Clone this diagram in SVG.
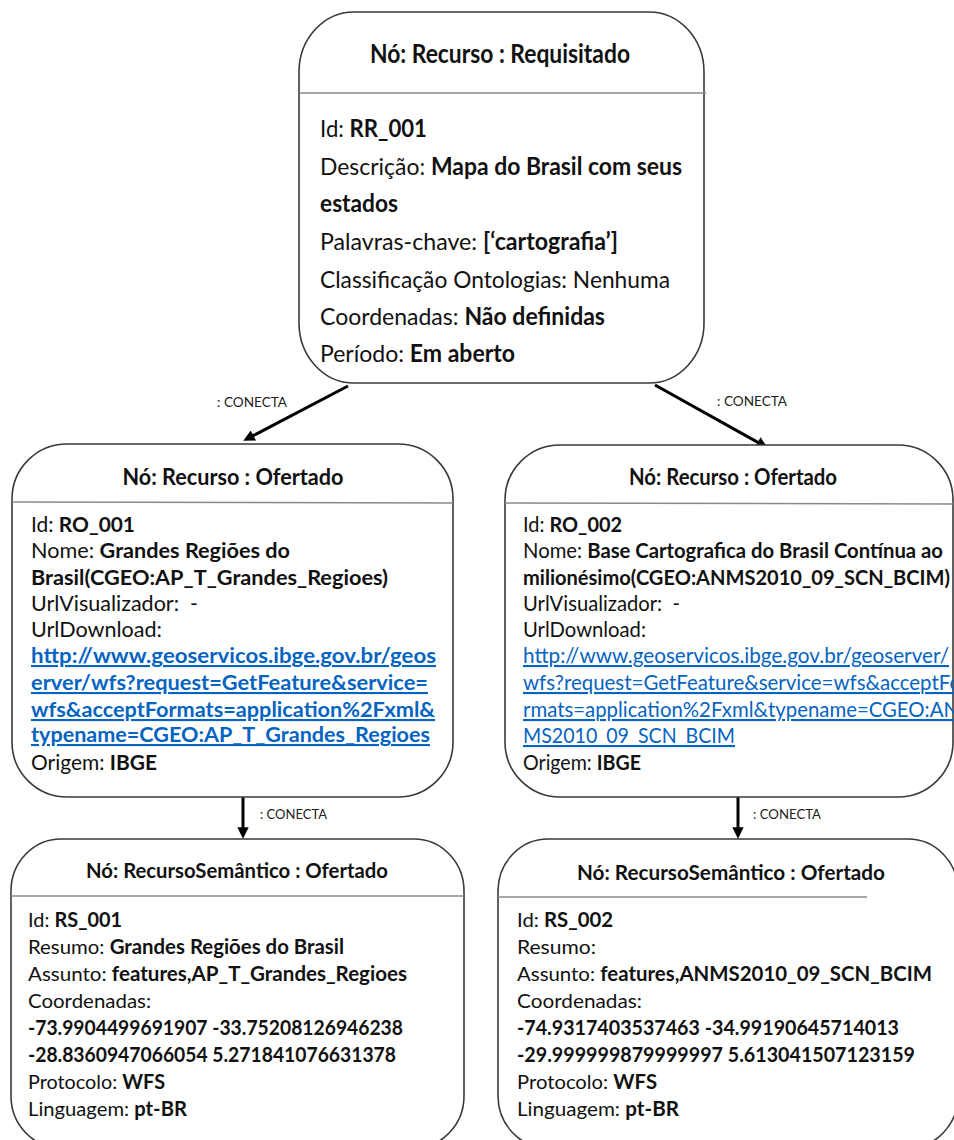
<svg xmlns="http://www.w3.org/2000/svg" width="954" height="1140" viewBox="0 0 954 1140">
<style>
.box{fill:#fff;stroke:#3a3a3a;stroke-width:1.6}
.sep{stroke:#8a8a8a;stroke-width:1.5}
.t{font-family:Lato,"Liberation Sans",sans-serif;fill:#111}
.b{font-weight:700}
.ttl{font-weight:700;text-anchor:middle}
.lk{fill:#0563C1;text-decoration:underline}
.top{font-size:24px}
.mid{font-size:21px}
.bot{font-size:20px}
.lbl{font-family:Lato,"Liberation Sans",sans-serif;font-size:13.5px;fill:#222}
.edge{stroke:#000;stroke-width:3;fill:none;marker-end:url(#ah)}
</style>
<defs>
<marker id="ah" viewBox="0 0 10 10" refX="5" refY="5" markerWidth="4.2" markerHeight="3.8" orient="auto" markerUnits="strokeWidth">
<path d="M0,0 L10,5 L0,10 z" fill="#000"/>
</marker>
</defs>

<g id="connectors">
<line class="edge" x1="348" y1="386" x2="248.3" y2="438.2"/>
<line class="edge" x1="655" y1="385" x2="762.8" y2="445.1"/>
<line class="edge" x1="243" y1="797" x2="243" y2="833"/>
<line class="edge" x1="738" y1="797" x2="738" y2="833"/>
<text class="lbl" x="217" y="407" textLength="70" lengthAdjust="spacingAndGlyphs">: CONECTA</text>
<text class="lbl" x="717" y="406" textLength="70" lengthAdjust="spacingAndGlyphs">: CONECTA</text>
<text class="lbl" x="260" y="819" textLength="67" lengthAdjust="spacingAndGlyphs">: CONECTA</text>
<text class="lbl" x="753" y="819" textLength="68" lengthAdjust="spacingAndGlyphs">: CONECTA</text>
</g>

<g id="node-rr001">
<rect class="box" x="299" y="12" width="405" height="371" rx="55" ry="60"/>
<line class="sep" x1="299" y1="93" x2="706" y2="93"/>
<text class="t ttl" x="500" y="63" font-size="27" textLength="260" lengthAdjust="spacingAndGlyphs">Nó: Recurso : Requisitado</text>
<g class="t top">
<text x="320" y="137" textLength="107" lengthAdjust="spacingAndGlyphs">Id: <tspan class="b">RR_001</tspan></text>
<text x="320" y="175" textLength="362" lengthAdjust="spacingAndGlyphs">Descrição: <tspan class="b">Mapa do Brasil com seus</tspan></text>
<text x="320" y="212" class="b" textLength="78" lengthAdjust="spacingAndGlyphs">estados</text>
<text x="320" y="250" textLength="298" lengthAdjust="spacingAndGlyphs">Palavras-chave: <tspan class="b">[‘cartografia’]</tspan></text>
<text x="320" y="288" textLength="350" lengthAdjust="spacingAndGlyphs">Classificação Ontologias: Nenhuma</text>
<text x="320" y="325" textLength="285" lengthAdjust="spacingAndGlyphs">Coordenadas: <tspan class="b">Não definidas</tspan></text>
<text x="320" y="362" textLength="195" lengthAdjust="spacingAndGlyphs">Período: <tspan class="b">Em aberto</tspan></text>
</g>
</g>

<g id="node-ro001">
<rect class="box" x="12" y="444" width="441" height="353" rx="55" ry="55"/>
<line class="sep" x1="12" y1="502" x2="453" y2="503"/>
<text class="t ttl" x="233" y="485" font-size="22" textLength="221" lengthAdjust="spacingAndGlyphs">Nó: Recurso : Ofertado</text>
<g class="t mid">
<text x="31" y="532" textLength="104" lengthAdjust="spacingAndGlyphs">Id: <tspan class="b">RO_001</tspan></text>
<text x="31" y="558" textLength="259" lengthAdjust="spacingAndGlyphs">Nome: <tspan class="b">Grandes Regiões do</tspan></text>
<text x="31" y="585" class="b" textLength="357" lengthAdjust="spacingAndGlyphs">Brasil(CGEO:AP_T_Grandes_Regioes)</text>
<text x="31" y="611" textLength="167" lengthAdjust="spacingAndGlyphs" xml:space="preserve">UrlVisualizador:  -</text>
<text x="31" y="637" textLength="131" lengthAdjust="spacingAndGlyphs">UrlDownload:</text>
<text x="31" y="663" class="b lk" textLength="405" lengthAdjust="spacingAndGlyphs">http://www.geoservicos.ibge.gov.br/geos</text>
<text x="31" y="690" class="b lk" textLength="397" lengthAdjust="spacingAndGlyphs">erver/wfs?request=GetFeature&amp;service=</text>
<text x="31" y="717" class="b lk" textLength="404" lengthAdjust="spacingAndGlyphs">wfs&amp;acceptFormats=application%2Fxml&amp;</text>
<text x="31" y="742" class="b lk" textLength="399" lengthAdjust="spacingAndGlyphs">typename=CGEO:AP_T_Grandes_Regioes</text>
<text x="31" y="770" textLength="126" lengthAdjust="spacingAndGlyphs">Origem: <tspan class="b">IBGE</tspan></text>
</g>
</g>

<g id="node-ro002">
<rect class="box" x="505" y="445" width="448" height="352" rx="55" ry="55"/>
<line class="sep" x1="505" y1="503" x2="953" y2="504"/>
<text class="t ttl" x="733" y="485" font-size="22" textLength="208" lengthAdjust="spacingAndGlyphs">Nó: Recurso : Ofertado</text>
<g class="t mid">
<text x="523" y="532" textLength="99" lengthAdjust="spacingAndGlyphs">Id: <tspan class="b">RO_002</tspan></text>
<text x="523" y="558" textLength="420" lengthAdjust="spacingAndGlyphs">Nome: <tspan class="b">Base Cartografica do Brasil Contínua ao</tspan></text>
<text x="523" y="585" class="b" textLength="427" lengthAdjust="spacingAndGlyphs">milionésimo(CGEO:ANMS2010_09_SCN_BCIM)</text>
<text x="523" y="611" textLength="157" lengthAdjust="spacingAndGlyphs" xml:space="preserve">UrlVisualizador:  -</text>
<text x="523" y="637" textLength="123" lengthAdjust="spacingAndGlyphs">UrlDownload:</text>
<text x="523" y="663" class="lk" textLength="426" lengthAdjust="spacingAndGlyphs">http://www.geoservicos.ibge.gov.br/geoserver/</text>
<text x="523" y="690" class="lk" textLength="438" lengthAdjust="spacingAndGlyphs">wfs?request=GetFeature&amp;service=wfs&amp;acceptFo</text>
<text x="523" y="717" class="lk" textLength="436" lengthAdjust="spacingAndGlyphs">rmats=application%2Fxml&amp;typename=CGEO:AN</text>
<text x="523" y="743" class="lk" textLength="212" lengthAdjust="spacingAndGlyphs">MS2010_09_SCN_BCIM</text>
<text x="523" y="770" textLength="118" lengthAdjust="spacingAndGlyphs">Origem: <tspan class="b">IBGE</tspan></text>
</g>
</g>

<g id="node-rs001">
<rect class="box" x="11" y="839" width="453" height="309" rx="50" ry="52"/>
<line class="sep" x1="11" y1="896" x2="464" y2="896"/>
<text class="t ttl" x="237" y="878" font-size="21" textLength="302" lengthAdjust="spacingAndGlyphs">Nó: RecursoSemântico : Ofertado</text>
<g class="t bot">
<text x="28" y="927" textLength="94" lengthAdjust="spacingAndGlyphs">Id: <tspan class="b">RS_001</tspan></text>
<text x="28" y="954" textLength="316" lengthAdjust="spacingAndGlyphs">Resumo: <tspan class="b">Grandes Regiões do Brasil</tspan></text>
<text x="28" y="981" textLength="379" lengthAdjust="spacingAndGlyphs">Assunto: <tspan class="b">features,AP_T_Grandes_Regioes</tspan></text>
<text x="28" y="1008" textLength="123" lengthAdjust="spacingAndGlyphs">Coordenadas:</text>
<text x="28" y="1035" class="b" textLength="375" lengthAdjust="spacingAndGlyphs">-73.9904499691907 -33.75208126946238</text>
<text x="28" y="1062" class="b" textLength="368" lengthAdjust="spacingAndGlyphs">-28.8360947066054 5.271841076631378</text>
<text x="28" y="1089" textLength="137" lengthAdjust="spacingAndGlyphs">Protocolo: <tspan class="b">WFS</tspan></text>
<text x="28" y="1116" textLength="159" lengthAdjust="spacingAndGlyphs">Linguagem: <tspan class="b">pt-BR</tspan></text>
</g>
</g>

<g id="node-rs002">
<rect class="box" x="498" y="839" width="460" height="309" rx="50" ry="52"/>
<line class="sep" x1="498" y1="897" x2="867" y2="897"/>
<text class="t ttl" x="731" y="880" font-size="21" textLength="308" lengthAdjust="spacingAndGlyphs">Nó: RecursoSemântico : Ofertado</text>
<g class="t bot">
<text x="517" y="927" textLength="96" lengthAdjust="spacingAndGlyphs">Id: <tspan class="b">RS_002</tspan></text>
<text x="517" y="954" textLength="79" lengthAdjust="spacingAndGlyphs">Resumo:</text>
<text x="517" y="981" textLength="415" lengthAdjust="spacingAndGlyphs">Assunto: <tspan class="b">features,ANMS2010_09_SCN_BCIM</tspan></text>
<text x="517" y="1008" textLength="125" lengthAdjust="spacingAndGlyphs">Coordenadas:</text>
<text x="517" y="1035" class="b" textLength="382" lengthAdjust="spacingAndGlyphs">-74.9317403537463 -34.99190645714013</text>
<text x="517" y="1062" class="b" textLength="398" lengthAdjust="spacingAndGlyphs">-29.999999879999997 5.613041507123159</text>
<text x="517" y="1089" textLength="140" lengthAdjust="spacingAndGlyphs">Protocolo: <tspan class="b">WFS</tspan></text>
<text x="517" y="1116" textLength="162" lengthAdjust="spacingAndGlyphs">Linguagem: <tspan class="b">pt-BR</tspan></text>
</g>
</g>
</svg>
